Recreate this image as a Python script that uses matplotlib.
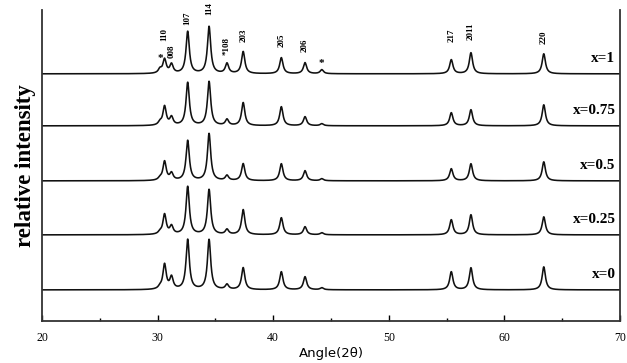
import numpy as np
import matplotlib
matplotlib.use("Agg")
import matplotlib.pyplot as plt
from matplotlib.ticker import MultipleLocator

# peak positions (2 theta) and hkl labels
peak_pos = [30.2, 30.6, 31.2, 32.6, 34.45, 36.0, 37.4, 40.7, 42.75, 44.2, 55.4, 57.1, 63.4]
hkl = ["*", "110", "008", "107", "114", "*108", "203", "205", "206", "*", "217", "2011", "220"]

samples = ["x=1", "x=0.75", "x=0.5", "x=0.25", "x=0"]
offsets = [247, 195, 140, 86, 31]

# peak heights for each sample, same order as peak_pos
h_x1 = [4, 14, 9, 42, 47, 10, 22, 16, 11, 4, 14, 21, 20]
h_x075 = [3, 19, 8, 43, 44, 6, 23, 19, 9, 2, 13, 16, 21]
h_x05 = [2, 19, 7, 40, 47, 5, 17, 17, 10, 2, 12, 17, 19]
h_x025 = [2, 20, 8, 48, 45, 5, 25, 17, 8, 2, 15, 20, 18]
h_x0 = [2, 25, 12, 50, 50, 5, 22, 18, 13, 2, 18, 22, 23]
heights = [h_x1, h_x075, h_x05, h_x025, h_x0]

# label y positions above the top pattern
label_y = [258, 280, 263, 296, 306, 266, 279, 274, 269, 253, 279, 281, 277]

tt = np.linspace(20, 70, 2500)


def pattern(h, base):
    y = np.full_like(tt, base, dtype=float)
    for p, a in zip(peak_pos, h):
        w = 0.17
        y += a / (1 + ((tt - p) / w) ** 2)
    return y


fig = plt.figure(figsize=(6.27, 3.63), dpi=100)
ax = fig.add_axes([0.067, 0.116, 0.922, 0.857])

for name, base, h in zip(samples, offsets, heights):
    ax.plot(tt, pattern(h, base), color="#111111", lw=1.15)
    ax.text(69.6, base + 9, name, ha="right", va="bottom",
            family="Liberation Serif", fontweight="bold", fontsize=11)

for p, lab, ly in zip(peak_pos, hkl, label_y):
    if lab == "*":
        ax.text(p, ly, "*", ha="center", va="bottom", fontsize=8,
                family="Liberation Serif", fontweight="bold", clip_on=False)
    else:
        ax.text(p, ly, lab, rotation=90, ha="center", va="bottom", fontsize=6.5,
                family="Liberation Serif", fontweight="bold", clip_on=False)

ax.set_xlim(20, 70)
ax.set_ylim(0, 311)
ax.set_yticks([])
ax.xaxis.set_major_locator(MultipleLocator(10))
ax.xaxis.set_minor_locator(MultipleLocator(5))
ax.tick_params(axis="x", which="major", direction="in", length=4, width=1, pad=8)
ax.tick_params(axis="x", which="minor", direction="in", length=2, width=1)
for lab in ax.get_xticklabels():
    lab.set_family("Liberation Serif")
    lab.set_fontsize(8.5)
ax.spines["top"].set_visible(False)
for s in ["left", "right", "bottom"]:
    ax.spines[s].set_linewidth(1.3)
    ax.spines[s].set_color("#333333")

ax.set_ylabel("relative intensity", family="Liberation Serif", fontweight="bold",
              fontsize=16.5, labelpad=4)
ax.set_xlabel("Angle(2\u03b8)", fontsize=9.5, labelpad=2)

fig.savefig("out.png", dpi=100)
